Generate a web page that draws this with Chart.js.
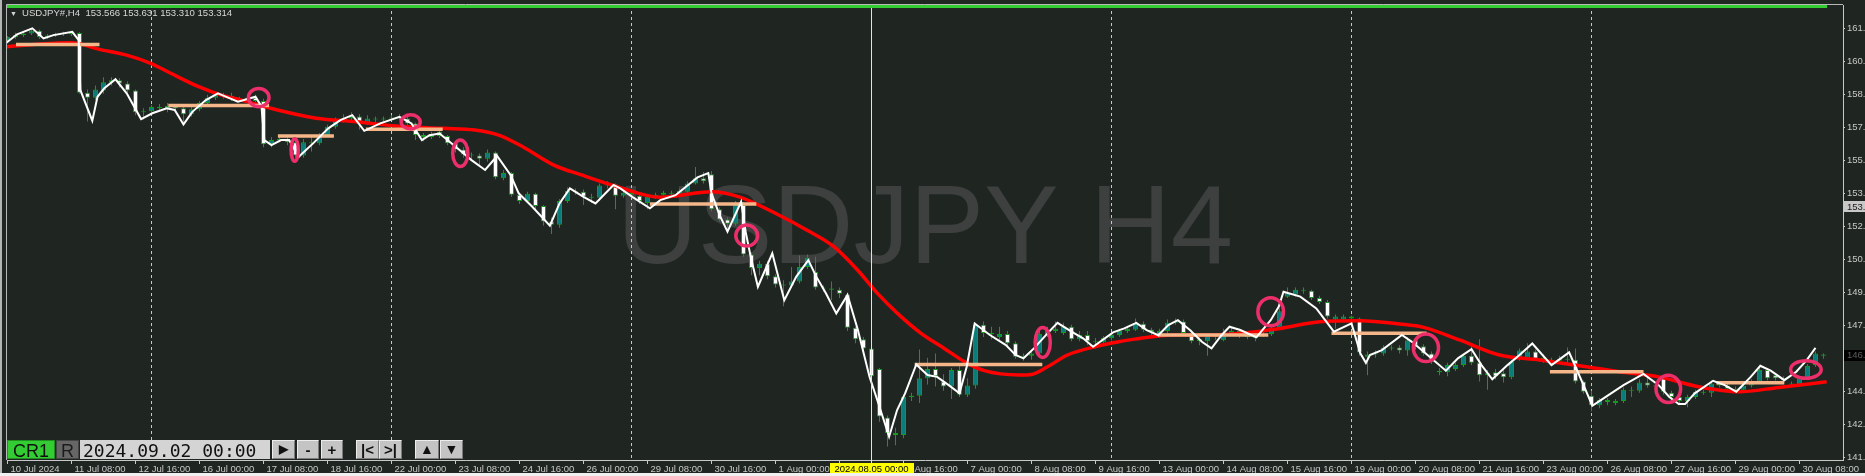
<!DOCTYPE html>
<html lang="en">
<head>
<meta charset="utf-8">
<title>USDJPY#,H4</title>
<script src="https://cdn.jsdelivr.net/npm/chart.js"></script>
<style>
  html, body { margin: 0; padding: 0; background: #1f2621; overflow: hidden; }
  #wrap { position: relative; width: 1865px; height: 476px; }
  canvas { position: absolute; left: 0; top: 0; }
  .hdr { position: absolute; top: 8px; font: 9.6px 'Liberation Sans', Arial, sans-serif; line-height: 10px; color: #d6d6d6; white-space: pre; }
  .tri { left: 10px; top: 10px; font-size: 7px; line-height: 7px; }
  .tb { position: absolute; top: 440px; height: 19px; line-height: 19px; text-align: center; box-sizing: border-box;
        font: 18px 'Liberation Sans', Arial, sans-serif; color: #111; }
  .btn { background: #c4c4c4; border-top: 1px solid #ececec; border-left: 1px solid #ececec;
         border-right: 1px solid #7c7c7c; border-bottom: 1px solid #7c7c7c; font-weight: bold; font-size: 15px; line-height: 17px; }
  .edgeL { position: absolute; left: 0; top: 0; width: 2px; height: 476px; background: #b4b4b4; }
  .edgeB { position: absolute; left: 0; top: 473px; width: 1865px; height: 3px; background: #f0f0f0; }
</style>
</head>
<body>
<div id="wrap">
  <canvas id="chart" width="1865" height="476"></canvas>
  <div class="hdr tri">▼</div>
  <div class="hdr" style="left:22px">USDJPY#,H4  153.566 153.631 153.310 153.314</div>

  <div class="tb" style="left:7px;width:48px;background:#33cc33;border:1px solid #1f8f1f">CR1</div>
  <div class="tb" style="left:56px;width:23px;background:#666;color:#1c1c1c;border:1px solid #444">R</div>
  <div class="tb" style="left:80px;width:190px;background:#d4d4d4;font-family:'DejaVu Sans Mono',monospace;font-size:18px;text-align:left;padding-left:3px">2024.09.02 00:00</div>
  <div class="tb btn" style="left:272px;width:23px;font-size:12px">▶</div>
  <div class="tb btn" style="left:297px;width:22px">-</div>
  <div class="tb btn" style="left:321px;width:22px">+</div>
  <div class="tb btn" style="left:356px;width:23px">|&lt;</div>
  <div class="tb btn" style="left:379px;width:23px">&gt;|</div>
  <div class="tb btn" style="left:415px;width:24px;font-size:14px">▲</div>
  <div class="tb btn" style="left:440px;width:23px;font-size:14px">▼</div>

  <div class="edgeL"></div>
  <div class="edgeB"></div>
</div>
<script>
// H4 bars from 10 Jul 2024 00:00 to 30 Aug 2024 20:00 (bar index 0..227)
const opens = [
  161.40,161.55,161.65,161.72,161.85,161.55,161.62,161.70,161.68,161.74,
  158.85,158.60,158.95,159.35,159.45,159.30,158.95,157.90,157.95,158.15,
  158.05,158.20,158.10,157.80,158.05,158.35,158.60,158.75,158.70,158.55,
  158.50,158.60,158.45,156.35,156.55,156.60,156.45,155.80,156.45,156.40,
  156.80,157.20,157.50,157.60,157.70,157.40,157.60,157.55,157.60,157.65,
  157.60,157.35,156.80,156.70,156.95,156.75,156.40,156.10,155.85,155.80,
  155.65,155.95,154.70,154.95,153.90,153.60,153.95,153.35,152.60,152.45,
  153.60,154.10,154.05,153.80,153.75,154.35,154.40,153.85,154.00,153.85,
  153.50,153.80,153.90,154.00,153.95,154.05,154.45,154.70,154.90,153.20,
  152.70,152.50,153.40,151.00,150.35,150.55,149.95,149.55,149.50,149.70,
  150.40,150.15,149.40,149.35,149.30,149.05,147.45,146.90,146.45,145.45,
  143.10,142.35,142.25,144.10,144.15,145.00,145.45,144.85,144.60,145.40,
  144.20,144.65,147.60,147.20,147.00,147.15,146.70,146.05,146.10,146.20,
  147.15,147.30,147.20,147.50,146.90,147.10,146.80,146.75,146.95,147.10,
  147.30,147.35,147.65,147.35,147.10,147.30,147.70,147.75,147.20,146.80,
  146.80,147.10,146.85,147.15,147.30,147.00,146.95,147.10,147.15,147.45,
  148.95,149.05,149.30,149.25,148.90,148.70,147.85,147.85,148.00,147.90,
  146.05,146.15,146.20,146.50,146.50,146.35,146.85,146.55,146.20,145.35,
  145.30,145.45,145.65,146.10,145.75,145.15,145.30,145.25,145.05,145.95,
  146.00,146.30,146.00,145.90,145.85,145.95,145.90,144.85,144.15,143.70,
  143.95,143.80,143.90,144.45,144.40,144.80,144.65,145.00,144.30,144.10,
  143.90,144.10,144.35,144.30,144.75,144.65,144.50,144.45,144.65,144.85,
  145.40,145.15,145.00,144.75,144.70,145.00,145.65,146.15
];
const highs = [
  161.60,161.75,161.80,161.95,161.90,161.70,161.75,161.80,161.85,161.78,
  159.00,159.20,159.60,159.60,159.55,159.40,159.00,158.10,158.25,158.30,
  158.35,158.30,158.15,158.15,158.45,158.75,158.90,158.85,158.85,158.65,
  158.70,158.75,158.55,156.70,156.70,156.70,156.50,156.60,156.70,156.90,
  157.30,157.65,157.80,157.90,157.80,157.75,157.70,157.70,157.75,157.80,
  157.70,157.40,156.90,156.95,157.05,156.80,156.45,156.20,155.95,155.90,
  156.10,156.00,155.10,155.00,154.00,154.05,154.00,153.40,152.80,153.70,
  154.25,154.20,154.15,153.95,154.45,154.55,154.45,154.15,154.10,153.90,
  153.90,154.00,154.10,154.10,154.20,154.55,155.25,155.00,155.05,153.30,
  152.80,153.60,153.55,151.10,150.70,150.70,150.05,149.75,150.40,150.95,
  151.00,150.90,149.50,149.70,149.40,149.15,147.50,147.00,146.50,145.50,
  143.20,142.60,144.20,144.30,146.40,146.00,146.20,145.20,145.50,145.60,
  145.00,147.70,147.75,147.50,147.50,147.30,146.80,146.20,146.40,147.30,
  147.50,147.75,147.70,147.60,147.30,147.30,146.95,147.05,147.25,147.40,
  147.55,147.90,147.75,147.45,147.40,147.85,147.90,147.85,147.35,147.00,
  147.20,147.20,147.40,147.50,147.40,147.30,147.25,147.35,147.60,148.40,
  149.40,149.40,149.40,149.30,149.00,148.80,148.10,148.10,148.05,147.95,
  146.30,146.35,146.60,146.60,146.60,147.00,146.95,146.65,146.30,145.50,
  145.75,145.75,146.20,146.55,146.90,145.40,145.45,145.40,145.90,146.45,
  146.70,146.40,146.15,146.00,146.10,146.50,146.45,144.90,144.40,144.05,
  144.05,144.00,144.55,144.60,144.95,145.00,144.80,145.10,144.40,144.20,
  144.20,144.45,144.45,144.90,144.85,144.75,144.60,144.75,144.95,145.55,
  145.50,145.25,145.10,144.85,145.10,145.70,146.30,146.20
];
const lows = [
  161.30,161.45,161.55,161.65,161.45,161.45,161.55,161.60,161.60,158.80,
  157.45,158.50,158.80,159.20,159.10,158.85,157.75,157.55,157.90,158.00,
  157.90,157.95,157.30,157.70,157.95,158.25,158.50,158.55,158.45,158.40,
  158.45,158.40,156.20,156.20,156.45,156.30,155.70,155.70,156.00,156.30,
  156.70,157.10,157.40,157.50,157.05,157.30,157.40,157.45,157.50,157.50,
  157.25,156.55,156.50,156.60,156.65,156.30,155.95,155.70,155.60,155.30,
  155.50,154.65,154.60,153.80,153.45,153.50,153.20,152.40,152.00,152.30,
  153.50,153.90,153.40,153.50,153.60,154.20,153.20,153.75,153.75,153.45,
  153.20,153.70,153.85,153.85,153.90,153.95,154.40,154.45,153.10,152.60,
  152.10,152.40,150.90,150.00,150.00,149.80,149.40,148.50,149.40,149.60,
  150.30,149.30,149.20,148.80,148.90,147.30,146.70,146.20,144.90,142.90,
  141.70,141.75,142.10,143.90,143.80,144.70,144.60,144.40,144.00,144.10,
  144.10,144.50,147.00,146.90,146.85,146.55,145.95,145.85,145.90,146.00,
  147.00,147.20,147.10,146.80,146.80,146.60,146.45,146.60,146.85,147.00,
  147.20,147.30,147.25,147.10,146.95,147.20,147.60,147.10,146.70,146.60,
  146.10,146.85,146.80,147.05,146.95,146.90,146.80,147.00,147.05,147.35,
  148.90,148.95,149.10,148.80,148.60,147.90,147.40,147.75,147.70,146.10,
  145.15,146.00,146.10,146.35,146.20,146.10,146.40,146.10,145.70,145.15,
  145.10,145.35,145.55,145.65,144.85,144.45,144.95,144.80,144.95,145.85,
  145.90,145.85,145.75,145.60,145.75,145.75,144.75,144.25,143.40,143.55,
  143.70,143.70,143.80,144.10,144.30,144.55,144.40,144.20,143.90,143.70,
  143.60,144.00,144.20,144.10,144.55,144.40,144.30,144.30,144.55,144.75,
  144.90,144.90,144.80,144.60,144.60,144.95,145.55,145.95
];
const closes = [
  161.55,161.65,161.72,161.85,161.55,161.62,161.70,161.68,161.74,158.85,
  158.60,159.00,159.35,159.45,159.30,158.95,157.90,157.95,158.15,158.10,
  158.20,158.10,157.80,158.05,158.35,158.60,158.75,158.70,158.55,158.50,
  158.60,158.45,156.35,156.55,156.60,156.45,155.80,156.45,156.40,156.80,
  157.20,157.50,157.60,157.70,157.40,157.60,157.55,157.60,157.65,157.60,
  157.35,156.80,156.70,156.85,156.75,156.40,156.10,155.85,155.80,155.65,
  155.95,154.75,154.95,153.90,153.60,153.95,153.35,152.60,152.45,153.60,
  154.10,154.05,153.80,153.75,154.35,154.40,153.85,154.00,153.90,153.60,
  153.80,153.90,154.00,153.95,154.10,154.45,154.70,154.55,153.20,152.70,
  152.50,153.40,151.00,150.35,150.55,149.95,149.55,149.50,149.70,150.40,
  150.85,149.40,149.35,149.30,149.10,147.45,146.90,146.45,145.10,143.15,
  142.35,142.25,144.10,144.15,145.00,145.45,145.10,144.60,145.40,144.20,
  144.65,147.60,147.20,147.15,147.15,146.70,146.05,146.10,146.20,147.15,
  147.30,147.40,147.50,146.90,147.10,146.80,146.75,146.95,147.10,147.30,
  147.40,147.65,147.35,147.25,147.30,147.70,147.75,147.20,146.80,146.90,
  147.10,147.00,147.15,147.30,147.10,147.15,147.10,147.15,147.45,148.25,
  149.15,149.30,149.25,148.90,148.70,148.00,148.00,148.00,147.90,146.25,
  146.15,146.20,146.50,146.45,146.35,146.85,146.60,146.20,145.80,145.30,
  145.65,145.65,146.10,145.75,145.15,145.25,145.10,145.05,145.80,146.35,
  146.30,145.95,145.90,145.85,145.95,145.90,144.85,144.35,143.70,143.95,
  143.85,143.90,144.45,144.40,144.80,144.65,144.60,144.35,144.10,143.90,
  144.10,144.35,144.30,144.75,144.65,144.50,144.45,144.65,144.85,145.40,
  145.00,145.00,144.90,144.70,145.00,145.60,146.20,146.10
];

// red moving average, read at [bar, price]
const maLine = [
  [-0.1,161.08],[4.1,161.21],[8,161.27],[11.5,160.95],[14.9,160.67],[17.9,160.27],[20.4,159.79],
  [23.9,159.14],[26.75,158.73],[29.25,158.49],[33.75,158.01],[38.6,157.61],[43.6,157.44],[48.55,157.23],
  [54.5,157.12],[58.4,157.04],[61.4,156.79],[64.4,156.23],[68.3,155.34],[71.75,154.86],[76.25,154.29],
  [81.6,153.78],[88,154.05],[91.45,153.8],[96.4,152.92],[99.9,152.19],[103.3,151.38],[106.25,150.25],
  [108.75,149.12],[111.25,148.15],[114.2,147.18],[117.1,146.45],[119.6,145.81],[122.1,145.37],[126.5,145.16],
  [128,145.19],[130,145.56],[132.5,146.13],[135.9,146.53],[138.9,146.77],[140.9,146.9],[145.8,147.1],
  [150.75,147.1],[154.1,147.18],[159.1,147.42],[164.1,147.74],[169.1,147.79],[174.05,147.63],[177,147.47],
  [181.5,146.86],[186.5,146.13],[191.5,145.89],[196.5,145.61],[201.45,145.32],[206.4,145.07],[211.4,144.59],
  [216.4,144.35],[221.4,144.56],[227.4,144.83]
];

// white swing line, read at [bar, price]
const swingLine = [
  [-0.25,161.24],[1.2,161.68],[3.1,161.97],[4.5,161.48],[5.75,161.64],[8.1,161.8],[8.9,161.4],[9.1,158.98],
  [10.6,157.49],[11.25,158.65],[12.1,159.06],[13.5,159.5],[14.9,158.82],[16.7,157.57],[18.1,157.85],[19.9,158.09],
  [20.9,158.01],[22,157.31],[23.1,157.92],[24.8,158.49],[26.3,158.82],[27.5,158.62],[28.8,158.41],[31,158.65],
  [31.75,158.17],[32.1,156.55],[33,156.31],[34.2,156.55],[35.2,156.55],[36.4,155.74],[38.2,156.39],[40.1,157.12],
  [41.6,157.52],[43.1,157.76],[44.6,157.0],[46.6,157.36],[49,157.68],[50.5,157.36],[51.8,156.55],[52.75,156.79],
  [54,156.87],[55,156.55],[56.5,156.07],[58,155.58],[59.7,155.1],[61.2,155.78],[62.9,154.85],[63.9,153.97],
  [65.6,153.32],[67.8,152.4],[69,153.48],[70.3,154.21],[72,153.8],[73.5,153.48],[75.75,154.37],[76.6,154.21],
  [78.1,153.8],[80.3,153.24],[81.6,153.64],[83.5,153.88],[86.25,154.74],[87.6,154.95],[88,153.97],[89,152.92],
  [90,152.11],[91.7,153.56],[92.3,152.03],[92.9,150.9],[93.8,149.44],[95.6,151.06],[97.1,148.79],[98.6,149.93],
  [100.1,150.73],[101.1,149.93],[102.3,149.12],[103.6,148.15],[105,149.04],[106.3,147.34],[107.75,145.08],[109,143.62],
  [110.2,142.17],[111.2,143.46],[112.2,144.27],[113.6,145.67],[115,145.16],[116.2,145.07],[117.65,144.67],[119,144.27],
  [119.9,145.56],[120.9,147.66],[122.8,147.1],[124.8,146.61],[126,146.13],[127,145.97],[128.3,146.45],[130,147.18],
  [131.25,147.69],[133,147.26],[134.45,146.94],[135.7,146.53],[138.2,147.23],[139.6,147.42],[141.1,147.69],[142.4,147.34],
  [143.85,147.09],[145.1,147.58],[146.3,147.82],[147.8,147.34],[149.3,146.77],[150.5,146.45],[151.75,147.09],[152.75,147.5],
  [154.1,147.34],[156.1,146.99],[157.9,147.82],[158.9,148.47],[159.5,149.2],[161.6,148.96],[163.6,148.39],[165.8,147.26],
  [168,147.66],[169.1,146.21],[169.8,145.75],[170.3,146.13],[171.8,146.37],[174.3,147.1],[175.55,146.77],[177.5,146.13],
  [179.8,145.37],[181.3,145.97],[183,146.41],[184.25,145.64],[185.6,144.95],[187.5,145.64],[189,146.13],[190.6,146.69],
  [193,145.64],[195.2,146.26],[196,145.56],[197.1,144.59],[198.1,143.67],[199.5,144.03],[202,144.67],[204.5,145.21],
  [206.4,144.67],[207.7,144.11],[208.9,143.75],[209.7,143.75],[210.9,144.27],[213.2,144.88],[214.65,144.67],[216.1,144.35],
  [217.9,145.07],[219.1,145.61],[220.4,145.37],[222.1,144.91],[223.6,145.32],[224.9,145.88],[226,146.48]
];

// orange levels: [from bar, to bar, price]
const levels = [
  [1.06,11.5,161.19],[20.1,32.7,158.23],[33.8,40.8,156.75],[44.8,54.4,157.07],[80.3,93.6,153.45],
  [113.4,129.35,145.67],[143.8,157.6,147.1],[165.5,177.4,147.18],[192.8,204.5,145.32],[213.6,222.1,144.78]
];

// pink markers: [bar, price] and their ellipse radii in px
const markers = [
  [31.4,158.61],[35.9,156.07],[50.4,157.43],[56.6,155.91],[92.4,151.92],
  [129.4,146.74],[157.9,148.23],[177.3,146.48],[207.6,144.49],[224.8,145.43]
];
const markerSize = [
  [10.3,9.1],[3.6,11.3],[9.5,7.1],[7.6,13.3],[10.9,10.5],
  [7.6,15],[12.8,14],[12.6,13.8],[12.3,13.6],[15.3,8.8]
];

const xTickLabels = ['10 Jul 2024','11 Jul 08:00','12 Jul 16:00','16 Jul 00:00','17 Jul 08:00','18 Jul 16:00',
  '22 Jul 00:00','23 Jul 08:00','24 Jul 16:00','26 Jul 00:00','29 Jul 08:00','30 Jul 16:00','1 Aug 00:00',
  '2 Aug 08:00','5 Aug 16:00','7 Aug 00:00','8 Aug 08:00','9 Aug 16:00','13 Aug 00:00','14 Aug 08:00',
  '15 Aug 16:00','19 Aug 00:00','20 Aug 08:00','21 Aug 16:00','23 Aug 00:00','26 Aug 08:00','27 Aug 16:00',
  '29 Aug 00:00','30 Aug 08:00'];
const yTicks = [161.95,160.35,158.75,157.15,155.55,153.95,152.35,150.75,149.15,147.55,145.95,144.35,142.75,141.15];
const weekStarts = [18, 48, 78, 108, 138, 168, 198];
const cursorBar = 108;
const cursorLabel = '2024.08.05 00:00';
const priceTags = [153.314, 146.13];

const GREEN = '#129c1c', TEAL = '#0b7d78';

const mtDecor = {
  id: 'mtDecor',
  beforeDatasetsDraw(chart) {
    const { ctx, chartArea: a, scales: { x } } = chart;
    ctx.save();
    ctx.fillStyle = '#3d403e';
    ctx.font = '112px "Liberation Sans", Arial, sans-serif';
    ctx.textAlign = 'center';
    ctx.textBaseline = 'middle';
    ctx.fillText('USDJPY H4', (a.left + a.right) / 2, (a.top + a.bottom) / 2);
    ctx.strokeStyle = '#c8c8c8';
    ctx.lineWidth = 1;
    ctx.setLineDash([3, 3]);
    weekStarts.forEach(b => {
      const px = x.getPixelForValue(b);
      ctx.beginPath();
      ctx.moveTo(px, a.top);
      ctx.lineTo(px, a.bottom);
      ctx.stroke();
    });
    ctx.restore();
  },
  afterDatasetsDraw(chart) {
    const { ctx, chartArea: a, scales: { x, y } } = chart;
    ctx.save();
    ctx.strokeStyle = '#ec2f6b';
    ctx.lineWidth = 3.5;
    markers.forEach(([b, p], k) => {
      ctx.beginPath();
      ctx.ellipse(x.getPixelForValue(b), y.getPixelForValue(p), markerSize[k][0], markerSize[k][1], 0, 0, Math.PI * 2);
      ctx.stroke();
    });
    const cx = x.getPixelForValue(cursorBar);
    ctx.strokeStyle = '#ffff00';
    ctx.lineWidth = 1;
    ctx.beginPath();
    ctx.moveTo(cx, a.top);
    ctx.lineTo(cx, a.bottom + 3);
    ctx.stroke();
    ctx.restore();
  },
  afterDraw(chart) {
    const { ctx, chartArea: a, scales: { x, y } } = chart;
    ctx.save();
    // frame and top bar
    ctx.strokeStyle = '#b8b8b8';
    ctx.lineWidth = 1;
    ctx.beginPath();
    ctx.moveTo(a.left - 0.5, a.bottom);
    ctx.lineTo(a.left - 0.5, a.top - 0.5);
    ctx.lineTo(a.right, a.top - 0.5);
    ctx.stroke();
    ctx.fillStyle = '#33cc33';
    ctx.fillRect(a.left, a.top, a.right - a.left - 16, 3);
    // cursor time label
    ctx.font = '9.5px "Liberation Sans", Arial, sans-serif';
    ctx.textBaseline = 'middle';
    const cx = x.getPixelForValue(cursorBar);
    const w = ctx.measureText(cursorLabel).width + 10;
    ctx.fillStyle = '#ffff00';
    ctx.fillRect(Math.round(cx - w / 2), a.bottom + 3, Math.round(w), 11);
    ctx.fillStyle = '#000';
    ctx.textAlign = 'center';
    ctx.fillText(cursorLabel, cx, a.bottom + 9);
    // price tags on the right scale
    ctx.font = '9.5px "Liberation Sans", Arial, sans-serif';
    ctx.textAlign = 'left';
    priceTags.forEach((p, k) => {
      const py = y.getPixelForValue(p);
      ctx.fillStyle = k === 0 ? '#c8c8c8' : '#000000';
      ctx.fillRect(a.right + 1, Math.round(py - 5.5), chart.width - a.right - 1, 11);
      ctx.fillStyle = k === 0 ? '#1a1a1a' : '#5c5c5c';
      ctx.fillText(p.toFixed(3), a.right + 4, py + 0.5);
    });
    ctx.restore();
  }
};

const levelData = [];
levels.forEach(([a, b, p]) => levelData.push({ x: a, y: p }, { x: b, y: p }, { x: b, y: null }));

new Chart(document.getElementById('chart'), {
  type: 'bar',
  data: {
    datasets: [
      {
        type: 'line', data: swingLine.map(([b, p]) => ({ x: b, y: p })),
        borderColor: '#ffffff', borderWidth: 2, pointRadius: 0, tension: 0, order: 1
      },
      {
        type: 'line', data: levelData, borderColor: '#f5b689', borderWidth: 3.5,
        pointRadius: 0, spanGaps: false, borderCapStyle: 'butt', order: 2
      },
      {
        type: 'line', data: maLine.map(([b, p]) => ({ x: b, y: p })),
        borderColor: '#ff0000', borderWidth: 3.5, pointRadius: 0, cubicInterpolationMode: 'monotone', order: 3
      },
      {
        type: 'bar', data: opens.map((o, i) => ({ x: i, y: [o, closes[i]] })),
        backgroundColor: c => closes[c.dataIndex] >= opens[c.dataIndex] ? TEAL : '#ffffff',
        borderColor: GREEN, borderWidth: 1, borderSkipped: false, barThickness: 5,
        minBarLength: 1, grouped: false, inflateAmount: 0, order: 4
      },
      {
        type: 'bar', data: lows.map((l, i) => ({ x: i, y: [l, highs[i]] })),
        backgroundColor: GREEN, borderWidth: 0, barThickness: 1,
        grouped: false, inflateAmount: 0, order: 5
      }
    ]
  },
  options: {
    responsive: false,
    animation: false,
    devicePixelRatio: 1,
    events: [],
    layout: { padding: { left: 7, top: 5, right: 0, bottom: 0 } },
    plugins: { legend: { display: false }, tooltip: { enabled: false } },
    scales: {
      x: {
        type: 'linear', position: 'bottom', min: -0.0625, max: 229.4375, offset: false,
        afterBuildTicks: s => { s.ticks = xTickLabels.map((t, k) => ({ value: k * 8 })); },
        afterFit: s => { s.height = 16; s.paddingLeft = 0; s.paddingRight = 0; },
        ticks: {
          autoSkip: false, maxRotation: 0, align: 'start', labelOffset: 3, padding: 0,
          color: '#c8c8c8', font: { family: 'Liberation Sans', size: 9.5 },
          callback: (v, k) => xTickLabels[k]
        },
        grid: { drawOnChartArea: false, offset: false, tickLength: 4, color: '#c8c8c8' },
        border: { color: '#c8c8c8' }
      },
      y: {
        position: 'right', min: 141.04, max: 163.10, beginAtZero: false,
        afterBuildTicks: s => { s.ticks = yTicks.map(v => ({ value: v })); },
        afterFit: s => { s.width = 22; s.paddingTop = 0; s.paddingBottom = 0; },
        ticks: { padding: 2, color: '#c8c8c8', font: { family: 'Liberation Sans', size: 9.5 }, callback: v => v.toFixed(3) },
        grid: { drawOnChartArea: false, tickLength: 2, color: '#c8c8c8' },
        border: { color: '#c8c8c8' }
      }
    }
  },
  plugins: [mtDecor]
});
</script>
</body>
</html>
